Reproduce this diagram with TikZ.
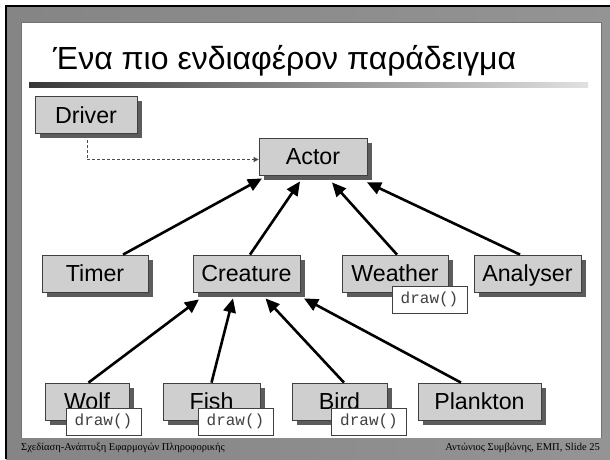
\documentclass[tikz,border=0pt]{standalone}
\usepackage{fontspec}
\setmainfont{Liberation Sans}
\newfontfamily\footfont{Liberation Serif}
\newfontfamily\codefont{Liberation Mono}
\usetikzlibrary{arrows.meta,shadows}

\tikzset{
  classbox/.style={draw=black!75, line width=0.8pt, fill=black!19, inner sep=0pt,
    minimum height=37pt, text height=16.6pt, text depth=0pt,
    font=\fontsize{23.2}{25}\selectfont,
    drop shadow={shadow xshift=4.5pt, shadow yshift=-4.5pt, fill=black!64, opacity=1}},
  methodbox/.style={draw=black!75, line width=0.8pt, fill=white, inner sep=0pt,
    minimum width=75pt, minimum height=27pt, text height=11pt, text depth=3pt,
    text=black!75, font=\codefont\fontsize{16}{18}\selectfont},
  inherit/.style={line width=2.6pt, -{Triangle[length=14pt,width=12.5pt]}},
  uses/.style={draw=black!70, line width=0.9pt, dash pattern=on 3pt off 2pt,
    -{Triangle[length=5pt,width=5pt]}},
  footer/.style={inner sep=0pt, font=\footfont\fontsize{10.5}{12}\selectfont}
}

\begin{document}
\begin{tikzpicture}[x=1pt,y=-1pt]
\useasboundingbox (0,0) rectangle (610,459);

% slide frame
\fill[white] (0,0) rectangle (610,459);
\shade[left color=black!48, middle color=black!24, right color=black!42] (6,6) rectangle (610,459);
\draw[black, line width=2pt] (6,459) -- (6,6) -- (610,6);
\fill[white] (21,22) rectangle (601,438);
\draw[black!55, line width=1pt] (21,438) -- (21,22) -- (601,22) -- (601,438);

% title and rule
\node[anchor=base west, inner sep=0pt, font=\fontsize{32}{36}\selectfont] (title) at (53,69)
  {Ένα πιο ενδιαφέρον παράδειγμα};
\shade[left color=black!78, right color=black!12] (29,82) rectangle (588,87);

% classes
\node[classbox, minimum width=102pt] (driver)   at (86,115)      {Driver};
\node[classbox, minimum width=108pt] (actor)    at (313,156.5)   {Actor};
\node[classbox, minimum width=106pt] (timer)    at (95,273.5)    {Timer};
\node[classbox, minimum width=107pt] (creature) at (246.5,273.5) {Creature};
\node[classbox, minimum width=106pt] (weather)  at (395,273.5)   {Weather};
\node[classbox, minimum width=107pt] (analyser) at (527.5,273.5) {Analyser};
\node[classbox, minimum width=84pt]  (wolf)     at (87,401.5)    {Wolf};
\node[classbox, minimum width=97pt]  (fish)     at (211.5,401.5) {Fish};
\node[classbox, minimum width=95pt]  (bird)     at (339.5,401.5) {Bird};
\node[classbox, minimum width=123pt] (plankton) at (479.5,401.5) {Plankton};

% overridden methods
\node[methodbox] (weatherdraw) at (429.5,299.5) {draw()};
\node[methodbox] (wolfdraw)    at (103.5,421.5) {draw()};
\node[methodbox] (fishdraw)    at (235.5,421.5) {draw()};
\node[methodbox] (birddraw)    at (369,421.5)   {draw()};

% inheritance
\draw[inherit] ([xshift=28pt]timer.north)     -- ([xshift=-51pt,yshift=-3pt]actor.south);
\draw[inherit] ([xshift=3.5pt]creature.north) -- ([xshift=-13pt,yshift=-6pt]actor.south);
\draw[inherit] ([xshift=2pt]weather.north)    -- ([xshift=19pt,yshift=-7pt]actor.south);
\draw[inherit] ([xshift=-7.5pt]analyser.north) -- ([xshift=54pt,yshift=-7pt]actor.south);
\draw[inherit] ([xshift=1.5pt]wolf.north)     -- ([xshift=-47.5pt,yshift=-7pt]creature.south);
\draw[inherit] (fish.north)                   -- ([xshift=-13.5pt,yshift=-6pt]creature.south);
\draw[inherit] ([xshift=4.5pt]bird.north)     -- ([xshift=19pt,yshift=-6pt]creature.south);
\draw[inherit] ([xshift=-18.5pt]plankton.north) -- ([xshift=57.5pt,yshift=-6pt]creature.south);

% dependency
\draw[uses] ([xshift=1pt,yshift=-6pt]driver.south) |- ([yshift=-3pt]actor.west);

% footer
\node[footer, anchor=base west] (footl) at (21,450) {Σχεδίαση-Ανάπτυξη Εφαρμογών Πληροφορικής};
\node[footer, anchor=base east] (footr) at (600,450) {Αντώνιος Συμβώνης, ΕΜΠ, Slide 25};
\end{tikzpicture}
\end{document}
